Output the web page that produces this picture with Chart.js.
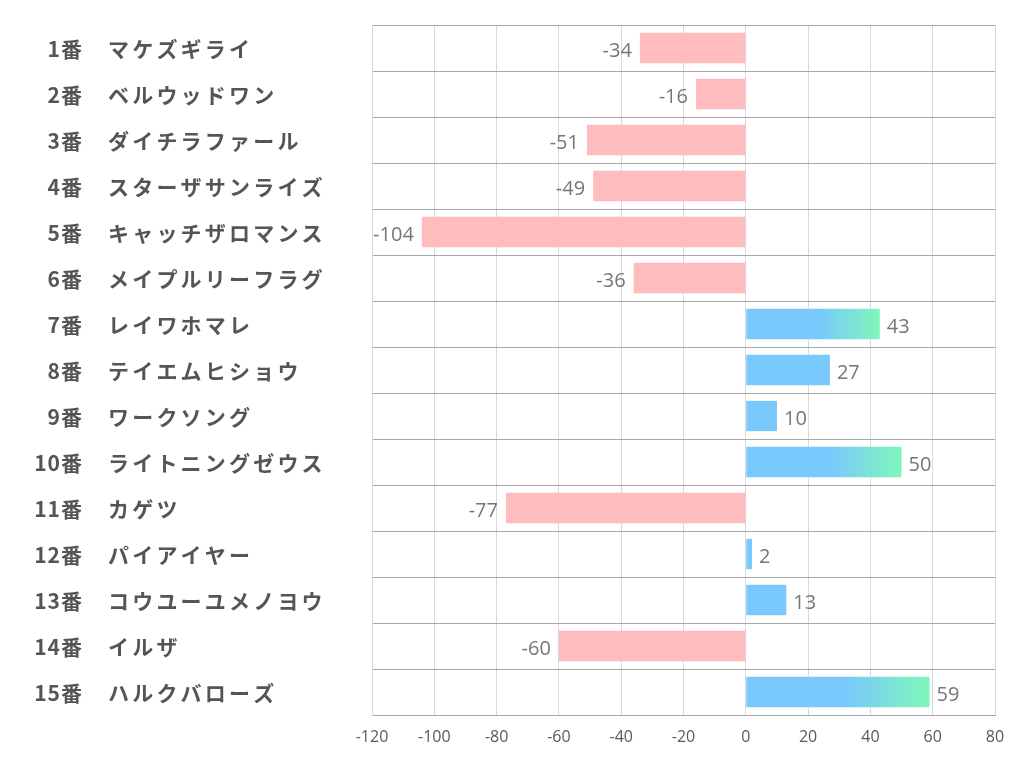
<!DOCTYPE html>
<html><head><meta charset="utf-8">
<script src="https://cdn.jsdelivr.net/npm/chart.js@4"></script>
<style>html,body{margin:0;padding:0;background:#fff}#wrap{width:1022px;height:782px}</style>
</head><body><div id="wrap"><canvas id="c" width="1022" height="782"></canvas></div>
<script>
const numbers = ['1番','2番','3番','4番','5番','6番','7番','8番','9番','10番','11番','12番','13番','14番','15番'];
const names = ['マケズギライ','ベルウッドワン','ダイチラファール','スターザサンライズ','キャッチザロマンス','メイプルリーフラグ','レイワホマレ','テイエムヒショウ','ワークソング','ライトニングゼウス','カゲツ','パイアイヤー','コウユーユメノヨウ','イルザ','ハルクバローズ'];
const values = [-34,-16,-51,-49,-104,-36,43,27,10,50,-77,2,13,-60,59];
const xTicks = [-120,-100,-80,-60,-40,-20,0,20,40,60,80];

const PINK = '#ffbcbf', BLUE = '#79c9fc', GREEN = '#7ef7b9';
const JP = '"Noto Sans CJK JP", "Noto Sans", sans-serif';
const LAT = '"Open Sans", "Noto Sans", sans-serif';

function barColor(ctx) {
  const v = values[ctx.dataIndex];
  if (v < 0) return PINK;
  const chart = ctx.chart;
  if (!chart.chartArea || v < 40) return BLUE;
  const xs = chart.scales.x;
  const x0 = xs.getPixelForValue(0), x1 = xs.getPixelForValue(v);
  const g = chart.ctx.createLinearGradient(x0, 0, x1, 0);
  g.addColorStop(0, BLUE);
  g.addColorStop(0.55, BLUE);
  g.addColorStop(1, GREEN);
  return g;
}

const labelPlugin = {
  id: 'labels',
  afterDraw(chart) {
    const c = chart.ctx, ys = chart.scales.y;
    c.save();
    c.fillStyle = '#555555';
    c.textBaseline = 'middle';
    numbers.forEach((n, i) => {
      const y = ys.getPixelForValue(i) + 1;
      c.font = 'bold 21px ' + JP;
      c.letterSpacing = '1px';
      c.textAlign = 'right';
      c.fillText(n, 83, y);
      c.letterSpacing = '3.2px';
      c.textAlign = 'left';
      c.fillText(names[i], 108, y);
    });
    c.letterSpacing = '0px';
    const meta = chart.getDatasetMeta(0);
    c.font = '20px ' + LAT;
    c.fillStyle = '#767676';
    meta.data.forEach((bar, i) => {
      const v = values[i];
      const y = bar.y + 3;
      if (v < 0) { c.textAlign = 'right'; c.fillText(String(v), bar.x - 8, y); }
      else { c.textAlign = 'left'; c.fillText(String(v), bar.x + 7, y); }
    });
    c.restore();
  }
};

new Chart(document.getElementById('c'), {
  type: 'bar',
  data: {
    labels: names,
    datasets: [{ data: values, backgroundColor: barColor, borderWidth: 0, categoryPercentage: 0.66, barPercentage: 1.0 }]
  },
  options: {
    indexAxis: 'y',
    responsive: false,
    animation: false,
    devicePixelRatio: 1,
    layout: { padding: { left: 0, right: 27, top: 25, bottom: 0 } },
    plugins: { legend: { display: false }, tooltip: { enabled: false } },
    scales: {
      x: {
        min: -120, max: 80,
        afterBuildTicks(s) { s.ticks = xTicks.map(v => ({ value: v })); },
        afterFit(s) { s.height = 67; },
        grid: { color: '#d9d9d9', lineWidth: 1, drawTicks: false },
        border: { color: '#a6a6a6' },
        ticks: { color: '#595959', font: { size: 16, family: LAT }, padding: 13 }
      },
      y: {
        afterFit(s) { s.width = 372; },
        grid: { color: '#a6a6a6', lineWidth: 1, drawTicks: false, offset: true },
        border: { color: '#d9d9d9' },
        ticks: { display: false }
      }
    }
  },
  plugins: [labelPlugin]
});
</script></body></html>
